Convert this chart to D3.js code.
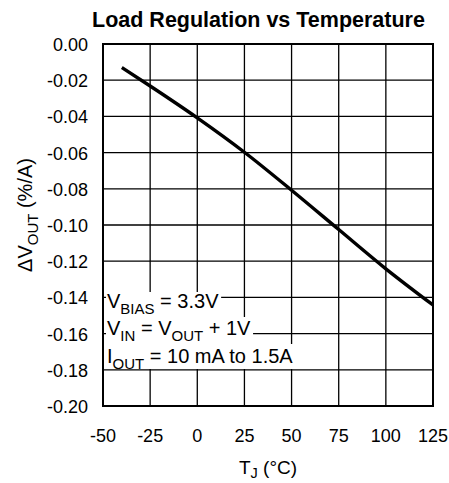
<!DOCTYPE html>
<html><head><meta charset="utf-8">
<script src="https://cdn.jsdelivr.net/npm/d3@7"></script>
<style>body{margin:0;background:#fff}svg{display:block}text{font-family:"Liberation Sans",Arial,sans-serif}</style>
</head><body>
<script>
const temps = [-40, -25, 0, 25, 50, 75, 100, 125];
const loadReg = [-0.013, -0.0232, -0.0408, -0.0598, -0.0808, -0.1025, -0.1242, -0.1442];
const xTicks = [-50, -25, 0, 25, 50, 75, 100, 125];
const yTicks = [0, -0.02, -0.04, -0.06, -0.08, -0.10, -0.12, -0.14, -0.16, -0.18, -0.20];

const W = 449, H = 483;
const m = {l: 103, t: 44, r: 16, b: 77};
const svg = d3.select("body").append("svg").attr("width", W).attr("height", H);
const x = d3.scaleLinear().domain([-50, 125]).range([m.l, W - m.r]);
const y = d3.scaleLinear().domain([0, -0.2]).range([m.t, H - m.b]);

// grid
svg.append("g").selectAll("line").data(xTicks.slice(1, -1)).join("line")
  .attr("x1", d => x(d)).attr("x2", d => x(d)).attr("y1", y(0)).attr("y2", y(-0.2))
  .attr("stroke", "#000").attr("stroke-width", 1.3);
svg.append("g").selectAll("line").data(yTicks.slice(1, -1)).join("line")
  .attr("y1", d => y(d)).attr("y2", d => y(d)).attr("x1", x(-50)).attr("x2", x(125))
  .attr("stroke", "#000").attr("stroke-width", 1.3);

// legend text with white background
const leg = svg.append("g");
const lines = [
  [["V", 0], ["BIAS", 1], [" = 3.3V", 0]],
  [["V", 0], ["IN", 1], [" = V", 0], ["OUT", 1], [" + 1V", 0]],
  [["I", 0], ["OUT", 1], [" = 10 mA to 1.5A", 0]]
];
const legY = [308, 335, 363];
const rowTop = [292, 317, 344];
const rowBot = [317, 344, 369];
lines.forEach((parts, i) => {
  const t = leg.append("text").attr("x", 107).attr("y", legY[i]).attr("font-size", 20);
  let prevSub = 0;
  parts.forEach(p => {
    t.append("tspan").text(p[0]).attr("font-size", p[1] ? 15 : 20)
      .attr("dy", p[1] ? 6 : (prevSub ? -6 : 0));
    prevSub = p[1];
  });
  const bb = t.node().getBBox();
  leg.insert("rect", "text").attr("x", 106).attr("y", rowTop[i])
    .attr("width", bb.x + bb.width + 2 - 106).attr("height", rowBot[i] - rowTop[i]).attr("fill", "#fff");
});

// frame
svg.append("rect").attr("x", x(-50)).attr("y", y(0)).attr("width", x(125) - x(-50)).attr("height", y(-0.2) - y(0))
  .attr("fill", "none").attr("stroke", "#000").attr("stroke-width", 2);

// data line
svg.append("path").datum(temps.map((t, i) => [t, loadReg[i]]))
  .attr("d", d3.line().x(d => x(d[0])).y(d => y(d[1])).curve(d3.curveMonotoneX))
  .attr("fill", "none").attr("stroke", "#000").attr("stroke-width", 3.4);

// axes labels
svg.append("g").selectAll("text").data(xTicks).join("text")
  .attr("x", d => x(d)).attr("y", 442).attr("text-anchor", "middle").attr("font-size", 18)
  .text(d => d);
svg.append("g").selectAll("text").data(yTicks).join("text")
  .attr("x", 88).attr("y", d => y(d) + 7).attr("text-anchor", "end").attr("font-size", 18)
  .text(d => d3.format(".2f")(d).replace("−", "-"));

// titles
svg.append("text").attr("x", 258.5).attr("y", 27).attr("text-anchor", "middle").attr("font-size", 21.5)
  .attr("font-weight", "bold").text("Load Regulation vs Temperature");
const xt = svg.append("text").attr("x", 268).attr("y", 474).attr("text-anchor", "middle").attr("font-size", 19);
xt.append("tspan").text("T");
xt.append("tspan").text("J").attr("font-size", 14.5).attr("dy", 4);
xt.append("tspan").text(" (°C)").attr("dy", -4);
const yt = svg.append("text").attr("transform", "translate(32,215) rotate(-90)").attr("text-anchor", "middle").attr("font-size", 20);
yt.append("tspan").text("ΔV");
yt.append("tspan").text("OUT").attr("font-size", 15).attr("dy", 6);
yt.append("tspan").text(" (%/A)").attr("dy", -6);
</script>
</body></html>
